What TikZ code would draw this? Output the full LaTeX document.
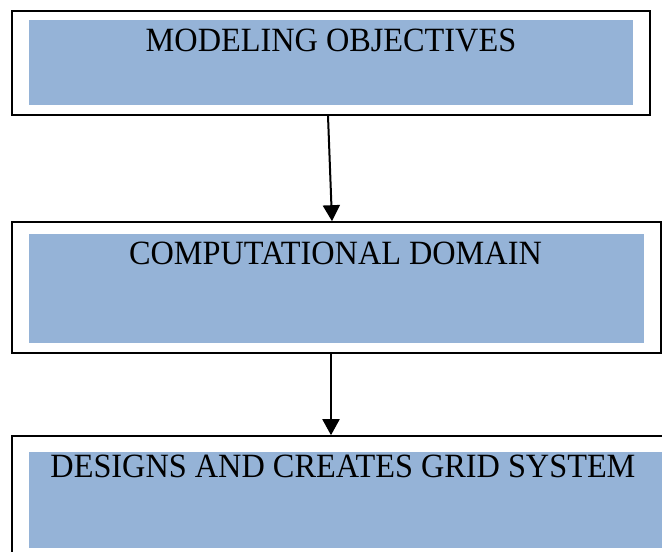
\documentclass[tikz,border=0pt]{standalone}
\usepackage{fontspec}
\setmainfont{Liberation Serif}
\usetikzlibrary{arrows.meta}
\definecolor{boxblue}{RGB}{149,179,215}
\begin{document}
\begin{tikzpicture}[x=1pt,y=-1pt,
    outerbox/.style={draw,line width=1.6pt,fill=white,inner sep=0pt},
    bluebox/.style={fill=boxblue,inner sep=0pt},
    boxtext/.style={anchor=base,inner sep=0pt,font=\fontsize{34}{40}\selectfont,xscale=0.95},
    flow/.style={-{Triangle[length=16pt,width=17pt]},line width=2pt}]
	\useasboundingbox (0,0) rectangle (662,552);
	% Kasser
	\node[outerbox,minimum width=638pt,minimum height=104pt] (objOuter) at (331,63) {};
	\node[bluebox,minimum width=604pt,minimum height=85pt] (obj) at (331,62.5) {};
	\node[boxtext] (objText) at ([yshift=-32pt]obj.north) {MODELING OBJECTIVES};
	\node[outerbox,minimum width=649pt,minimum height=131pt] (domOuter) at (336.5,287.5) {};
	\node[bluebox,minimum width=615pt,minimum height=109pt] (dom) at (336.5,288.5) {};
	\node[boxtext] (domText) at ([xshift=-1pt,yshift=-31pt]dom.north) {COMPUTATIONAL DOMAIN};
	\node[outerbox,minimum width=668pt,minimum height=130pt] (gridOuter) at (346,501) {};
	\node[bluebox,minimum width=634pt,minimum height=96pt] (grid) at (346,500) {};
	\node[boxtext] (gridText) at ([xshift=-3pt,yshift=-26pt]grid.north) {DESIGNS AND CREATES GRID SYSTEM};
	% Piler
	\draw[flow] ([xshift=-3pt]objOuter.south) -- ([xshift=-4.5pt]domOuter.north);
	\draw[flow] ([xshift=-5.5pt]domOuter.south) -- ([xshift=-15pt]gridOuter.north);
\end{tikzpicture}
\end{document}
